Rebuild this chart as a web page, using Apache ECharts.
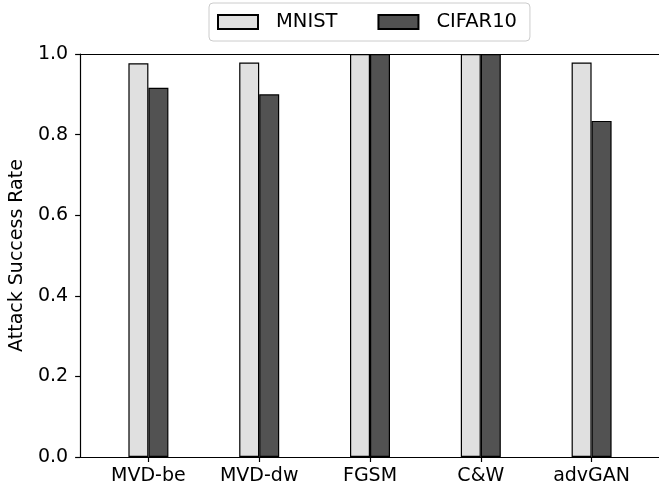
<!DOCTYPE html>
<html>
<head>
<meta charset="utf-8">
<script src="https://cdn.jsdelivr.net/npm/echarts@6/dist/echarts.min.js"></script>
<style>
  html, body { margin: 0; padding: 0; background: #fff; }
  #chart { width: 659px; height: 489px; }
</style>
</head>
<body>
<div id="chart"></div>
<script>
var categories = ['MVD-be', 'MVD-dw', 'FGSM', 'C&W', 'advGAN'];
var mnist = [0.977, 0.979, 1.0, 1.0, 0.979];
var cifar10 = [0.916, 0.900, 1.0, 1.0, 0.834];

var font = 'DejaVu Sans';
var myChart = echarts.init(document.getElementById('chart'));

var axisBlack = { color: '#000', width: 1.2 };

option = {
    backgroundColor: '#fff',
    animation: false,
    textStyle: { fontFamily: font },
    legend: {
        left: 209,
        top: 3,
        padding: [9, 13, 9, 8],
        itemWidth: 40,
        itemHeight: 14,
        itemGap: 40,
        borderColor: '#cccccc',
        borderWidth: 1,
        borderRadius: 4,
        icon: 'rect',
        textStyle: { fontFamily: font, fontSize: 19.5, color: '#000', padding: [0, 0, 0, 13] },
        data: ['MNIST', 'CIFAR10']
    },
    grid: [
        // bars
        { left: 93, right: 12, top: 54, bottom: 32 },
        // frame and y axis
        { left: 77, right: 0, top: 54, bottom: 32 }
    ],
    xAxis: [{
        type: 'category',
        gridIndex: 0,
        data: categories,
        axisLine: { show: false },
        axisTick: { show: true, alignWithLabel: true, length: 5, lineStyle: axisBlack },
        axisLabel: { margin: 10, fontFamily: font, fontSize: 19, color: '#000' }
    }, {
        type: 'value',
        gridIndex: 1,
        position: 'bottom',
        min: 0,
        max: 1,
        splitLine: { show: false },
        axisLine: { show: true, lineStyle: axisBlack },
        axisTick: { show: false },
        axisLabel: { show: false }
    }, {
        type: 'value',
        gridIndex: 1,
        position: 'top',
        min: 0,
        max: 1,
        splitLine: { show: false },
        axisLine: { show: true, lineStyle: axisBlack },
        axisTick: { show: false },
        axisLabel: { show: false }
    }],
    yAxis: [{
        type: 'value',
        gridIndex: 0,
        min: 0,
        max: 1,
        show: false
    }, {
        type: 'value',
        gridIndex: 1,
        min: 0,
        max: 1,
        interval: 0.2,
        name: 'Attack Success Rate',
        nameLocation: 'middle',
        nameGap: 50,
        nameTextStyle: { fontFamily: font, fontSize: 19, color: '#000' },
        splitLine: { show: false },
        axisLine: { show: true, lineStyle: axisBlack },
        axisTick: { show: true, length: 5, lineStyle: axisBlack },
        axisLabel: {
            margin: 12,
            fontFamily: font,
            fontSize: 19,
            color: '#000',
            formatter: function (v) { return v.toFixed(1); }
        }
    }],
    series: [{
        name: 'MNIST',
        type: 'bar',
        xAxisIndex: 0,
        yAxisIndex: 0,
        barWidth: 20,
        barGap: '0%',
        itemStyle: { color: '#e0e0e0', borderColor: '#000', borderWidth: 1.2 },
        data: mnist
    }, {
        name: 'CIFAR10',
        type: 'bar',
        xAxisIndex: 0,
        yAxisIndex: 0,
        barWidth: 20,
        barGap: '0%',
        itemStyle: { color: '#525252', borderColor: '#000', borderWidth: 1.2 },
        data: cifar10
    }]
};

myChart.setOption(option);
</script>
</body>
</html>
